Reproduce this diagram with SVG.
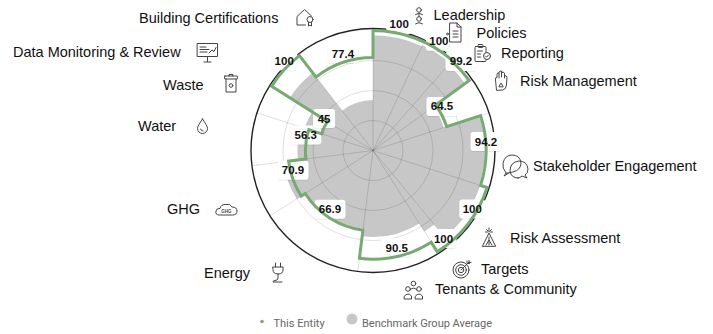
<svg xmlns="http://www.w3.org/2000/svg" width="713" height="334" viewBox="0 0 713 334">
<defs>
<style>
.cat{font-family:"Liberation Sans",Arial,sans-serif;font-size:14.5px;fill:#111}
.val{font-family:"Liberation Sans",Arial,sans-serif;font-size:11.5px;font-weight:bold;fill:#111;text-anchor:middle}
.leg{font-family:Roboto,"Liberation Sans",sans-serif;font-size:11px;fill:#666}
.ic{fill:none;stroke:#444;stroke-width:1;stroke-linejoin:round;stroke-linecap:round}
.grid{fill:none;stroke:#000;stroke-opacity:0.14;stroke-width:0.9}
.box{fill:#fff;filter:url(#sh)}
</style>
<filter id="sh" x="-20%" y="-20%" width="140%" height="140%">
<feDropShadow dx="0" dy="0.4" stdDeviation="0.7" flood-color="#000" flood-opacity="0.18"/>
</filter>
</defs>
<rect width="713" height="334" fill="#fff"/>

<g id="benchmark">
<path fill="#c7c7c7" d="M373,35.3 A115.2,115.2 0 0 1 422.05,46.27 L422.56,45.18 A116.4,116.4 0 0 1 449.98,63.19 L448.39,64.99 A114,114 0 0 1 465.23,83.49 L433.19,106.77 A74.4,74.4 0 0 1 443.76,127.51 L479.14,116.02 A111.6,111.6 0 0 1 479.14,184.98 L480.28,185.36 A112.8,112.8 0 0 1 444.90,237.41 L434.19,224.47 A96,96 0 0 1 424.44,231.55 L419.29,223.45 A86.4,86.4 0 0 1 362.17,236.22 L363.08,229.07 A79.2,79.2 0 0 1 306.13,192.94 L297.01,198.72 A90,90 0 0 1 283.71,161.78 L298.00,159.97 A75.6,75.6 0 0 1 301.10,127.14 L304.52,128.25 A72,72 0 0 1 312.21,111.92 L289.92,97.78 A98.4,98.4 0 0 1 312.69,72.74 L342.11,110.67 A50.4,50.4 0 0 1 373,100.1 Z"/>
</g>

<g id="grid">
<circle class="grid" cx="373" cy="150.5" r="30"/>
<circle class="grid" cx="373" cy="150.5" r="60"/>
<circle class="grid" cx="373" cy="150.5" r="90"/>
<path class="grid" d="M373,150.5 L373,28.5 M373,150.5 L424.95,40.11 M373,150.5 L453.68,58.99 M373,150.5 L471.70,78.79 M373,150.5 L489.03,112.80 M373,150.5 L489.03,188.20 M373,150.5 L450.76,244.50 M373,150.5 L438.37,253.50 M373,150.5 L357.71,271.54 M373,150.5 L270.0,215.87 M373,150.5 L251.96,165.79 M373,150.5 L256.97,112.80 M373,150.5 L270.0,85.13 M373,150.5 L298.23,54.10"/>
<circle cx="373" cy="150.5" r="122" fill="none" stroke="#222" stroke-width="1.4"/>
</g>

<g id="label-boxes">
<rect class="box" x="386.2" y="14.9" width="26" height="19" rx="3"/>
<rect class="box" x="425.9" y="31.7" width="26" height="19" rx="3"/>
<rect class="box" x="445.5" y="51.9" width="31" height="19" rx="3"/>
<rect class="box" x="426.5" y="96.9" width="31" height="19" rx="3"/>
<rect class="box" x="470.5" y="132" width="31" height="19" rx="3"/>
<rect class="box" x="459.3" y="199.5" width="26" height="19" rx="3"/>
<rect class="box" x="430.5" y="229.1" width="26" height="19" rx="3"/>
<rect class="box" x="381.2" y="238" width="31" height="19" rx="3"/>
<rect class="box" x="314.5" y="199.8" width="31" height="19" rx="3"/>
<rect class="box" x="277.5" y="160.8" width="31" height="19" rx="3"/>
<rect class="box" x="290.2" y="125.6" width="31" height="19" rx="3"/>
<rect class="box" x="313.1" y="109" width="22" height="19" rx="3"/>
<rect class="box" x="271.2" y="51.2" width="26" height="19" rx="3"/>
<rect class="box" x="327.4" y="44.1" width="31" height="19" rx="3"/>
</g>

<g id="connectors">
<path fill="none" stroke="#77aa72" stroke-width="3" stroke-linejoin="miter" d="M373,30.5 A120,120 0 0 1 452.36,60.49 L451.72,61.21 A119.04,119.04 0 0 1 469.30,80.53 L435.62,105.00 A77.4,77.4 0 0 1 446.62,126.58 L480.51,115.57 A113.04,113.04 0 0 1 480.51,185.43 L487.13,187.58 A120,120 0 0 1 437.30,251.82 L431.19,242.19 A108.6,108.6 0 0 1 359.39,258.24 L362.94,230.15 A80.28,80.28 0 0 1 305.22,193.51 L301.17,196.09 A85.08,85.08 0 0 1 288.59,161.16 L305.97,158.97 A67.56,67.56 0 0 1 308.74,129.62 L321.64,133.81 A54,54 0 0 1 327.41,121.57 L271.68,86.20 A120,120 0 0 1 299.45,55.68 L316.07,77.11 A92.88,92.88 0 0 1 373,57.62 Z"/>
</g>

<g id="values">
<text class="val" x="399.2" y="28.4">100</text>
<text class="val" x="438.9" y="45.2">100</text>
<text class="val" x="461" y="65.4">99.2</text>
<text class="val" x="442" y="110.4">64.5</text>
<text class="val" x="486" y="145.5">94.2</text>
<text class="val" x="472.3" y="213">100</text>
<text class="val" x="443.5" y="242.6">100</text>
<text class="val" x="396.7" y="251.5">90.5</text>
<text class="val" x="330" y="213.3">66.9</text>
<text class="val" x="293" y="174.3">70.9</text>
<text class="val" x="305.7" y="139.1">56.3</text>
<text class="val" x="324.1" y="122.5">45</text>
<text class="val" x="284.2" y="64.7">100</text>
<text class="val" x="342.9" y="57.6">77.4</text>
</g>

<g id="node-leadership">
<text class="cat" x="433.5" y="19.5">Leadership</text>
<g class="ic"><circle cx="419" cy="10" r="2.3"/><path d="M415.5,14.5 q3.5,-2.5 7,0"/><path d="M419,14.5 v2"/><circle cx="419" cy="19" r="2.3"/><path d="M415.5,23.8 q3.5,-2.5 7,0"/></g>
</g>
<g id="node-policies">
<text class="cat" x="476.5" y="38">Policies</text>
<g class="ic"><path d="M450,23 h7 l4,4 v15 h-11 z"/><path d="M457,23 v4 h4"/><path d="M453,31 h5 M453,34 h5 M453,37 h5"/><circle cx="447.5" cy="34" r="0.9"/></g>
</g>
<g id="node-reporting">
<text class="cat" x="501" y="58">Reporting</text>
<g class="ic"><rect x="475" y="46.5" width="11" height="15" rx="1"/><rect x="478" y="44.5" width="5" height="3" rx="1"/><path d="M477.5,51 h5 M477.5,54 h3 M477.5,57 h3"/><circle cx="487" cy="56" r="3.5" fill="#fff"/><path d="M485.5,56 l1,1.2 l2,-2.2"/></g>
</g>
<g id="node-risk-management">
<text class="cat" x="520" y="85.5">Risk Management</text>
<g class="ic"><path d="M496.5,90 L495.5,80 Q495,77 497,77.5 L497,74.5 Q497,72.5 499,73 L499,72.5 Q499.5,70.5 501.5,71 L502,72.5 Q504,71.5 504.5,73.5 L504.5,76 Q506.5,75 507,77 L506.5,85 Q506,89.5 503,90 Z"/><path d="M499,86.5 L501,83 L503,86.5 Z"/><path d="M499,73 v5 M501.5,72 v5 M504.5,74 v4"/></g>
</g>
<g id="node-stakeholder-engagement">
<text class="cat" x="533" y="171">Stakeholder Engagement</text>
<g class="ic"><path d="M506,173 Q502,168 503,163 Q505,155 512,155 Q520,155 521,163 Q521,170 513,172 Z"/><path d="M506,173 l-2,3 l5,-3"/><path d="M518,178 Q511,178 510,171 Q510,162 519,161 Q527,161 528,169 Q528,173 525,175 l2,3 l-5,-2 Q520,178 518,178 Z"/></g>
</g>
<g id="node-risk-assessment">
<text class="cat" x="510" y="243.3">Risk Assessment</text>
<g class="ic"><path d="M482.5,246 L489,233 L495.5,246 Z"/><path d="M489,237 v8 M486,245 l3,-5 l3,5"/><path d="M489,232 v-4 M486.5,229.5 l1.5,1.5 M491.5,229.5 l-1.5,1.5 M485.5,232 h2 M490.5,232 h2"/></g>
</g>
<g id="node-targets">
<text class="cat" x="481" y="273.5">Targets</text>
<g class="ic"><circle cx="461" cy="270" r="8"/><circle cx="461" cy="270" r="5.3"/><circle cx="461" cy="270" r="2.7"/><path d="M461,270 L469,262 M467,261 v2.5 h2.5 M469,260.5 v2 h2"/></g>
</g>
<g id="node-tenants-community">
<text class="cat" x="435" y="294">Tenants &amp; Community</text>
<g class="ic"><circle cx="413.5" cy="283.5" r="2.3"/><path d="M410,290 q3.5,-4 7,0"/><circle cx="408" cy="289" r="2.3"/><path d="M404.5,296 q3.5,-4 7,0 v3 h-7 z"/><circle cx="419" cy="289" r="2.3"/><path d="M415.5,296 q3.5,-4 7,0 v3 h-7 z"/></g>
</g>
<g id="node-energy">
<text class="cat" x="204" y="277.7">Energy</text>
<g class="ic"><path d="M275.5,263 v4 M280.5,263 v4"/><path d="M273,267 h10 v3 q0,4 -5,4 q-5,0 -5,-4 z"/><path d="M278,274 v4 q0,2.5 -3,2.5 q-2,0 -2,1.5 h9"/></g>
</g>
<g id="node-ghg">
<text class="cat" x="167" y="214">GHG</text>
<g class="ic"><path d="M219,215 Q215,215 216,211 Q216.5,208 220,208.5 Q221,204 226,204.5 Q230,203 232,207 Q237,207 237,211 Q237,215 233,215 Z"/></g>
<text x="226.5" y="213.3" font-family="Liberation Sans,sans-serif" font-size="4.5" font-weight="bold" fill="#444" text-anchor="middle">GHG</text>
</g>
<g id="node-water">
<text class="cat" x="138" y="130.7">Water</text>
<g class="ic"><path d="M202.5,119 C199.5,123.5 197.5,126.5 197.5,128.5 A5,5 0 0 0 207.5,128.5 C207.5,126.5 205.5,123.5 202.5,119 Z"/><path d="M200.5,129 q0.5,2 2.5,2"/></g>
</g>
<g id="node-waste">
<text class="cat" x="163" y="90">Waste</text>
<g class="ic"><rect x="224.5" y="76" width="13" height="3" rx="0.5"/><path d="M229,76 v-1.5 h4 v1.5"/><path d="M226,79 v13 h10 v-13"/><circle cx="231" cy="85.5" r="1.8"/></g>
</g>
<g id="node-data-monitoring">
<text class="cat" x="13" y="57">Data Monitoring &amp; Review</text>
<g class="ic"><rect x="197.5" y="43.5" width="20" height="13"/><path d="M200,47 h6 M200,49.5 h9 M200,52 h7 M209,53 l3,-3 l2,1.5 l2,-4"/><path d="M207.5,56.5 v5 M204,62 h7"/></g>
</g>
<g id="node-building-certifications">
<text class="cat" x="139" y="22.5">Building Certifications</text>
<g class="ic"><path d="M305.5,25 H297 V16.5 L304.5,9.5 L311.5,16"/><circle cx="310" cy="19.5" r="3"/><path d="M308.5,22.3 v3.7 l1.5,-1 l1.5,1 v-3.7"/></g>
</g>

<g id="legend">
<circle cx="262" cy="321.5" r="1.8" fill="#77aa72"/>
<text class="leg" x="273.5" y="327">This Entity</text>
<circle cx="352" cy="319" r="5.5" fill="#c7c7c7"/>
<text class="leg" x="362" y="327">Benchmark Group Average</text>
</g>
</svg>
